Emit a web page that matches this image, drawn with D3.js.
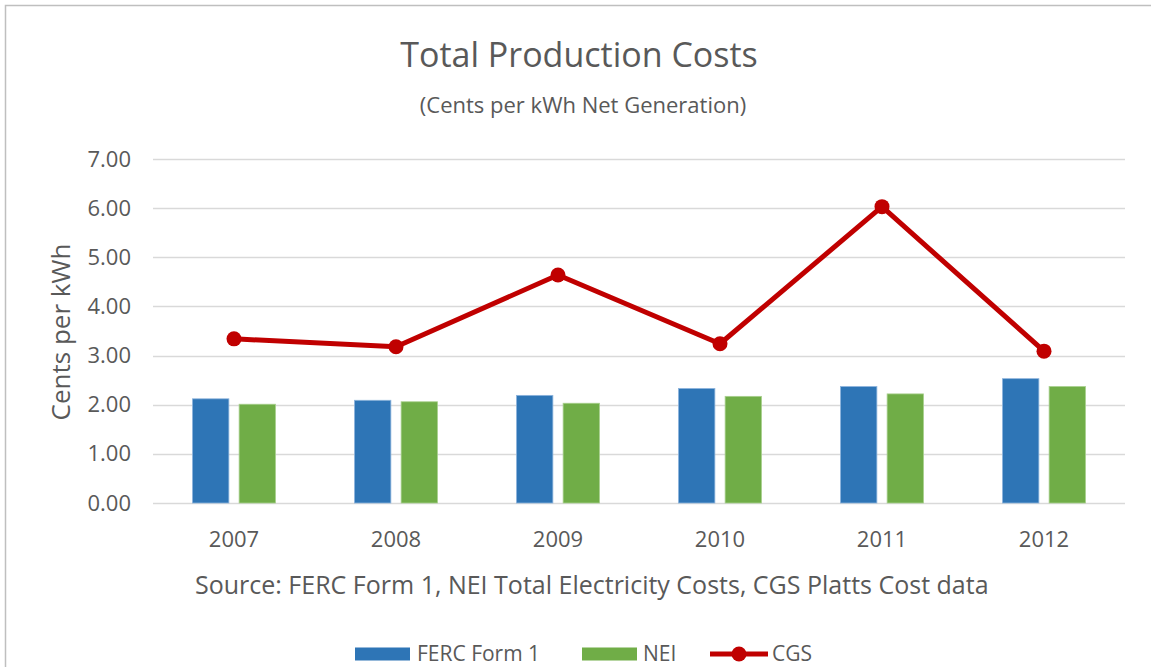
<!DOCTYPE html>
<html>
<head>
<meta charset="utf-8">
<script src="https://cdn.jsdelivr.net/npm/d3@7"></script>
<style>
  body { margin: 0; background: #fff; }
  svg { display: block; font-family: "Open Sans", sans-serif; }
</style>
</head>
<body>
<div id="chart"></div>
<script>
const years = ["2007", "2008", "2009", "2010", "2011", "2012"];
const fercValues = [2.12, 2.09, 2.19, 2.33, 2.37, 2.53];
const neiValues = [2.01, 2.06, 2.03, 2.17, 2.22, 2.37];
const cgsValues = [3.34, 3.18, 4.64, 3.24, 6.03, 3.09];
const yTicks = [0, 1, 2, 3, 4, 5, 6, 7];

const width = 1151, height = 667;
const margin = { top: 159, right: 26, bottom: 164, left: 153 };
const textColor = "#595959";

const svg = d3.select("#chart").append("svg")
  .attr("width", width)
  .attr("height", height);

// chart frame (right and bottom edges fall off the picture)
svg.append("rect")
  .attr("x", 5.5).attr("y", 5.5)
  .attr("width", width + 20).attr("height", height + 20)
  .attr("fill", "#fff")
  .attr("stroke", "#bfbfbf")
  .attr("stroke-width", 1.5);

const x = d3.scaleBand()
  .domain(years)
  .range([margin.left, width - margin.right]);

const x1 = d3.scaleBand()
  .domain(["ferc", "nei"])
  .range([0, 83])
  .paddingInner(0.22);

const y = d3.scaleLinear()
  .domain([0, 7])
  .range([height - margin.bottom, margin.top]);

// gridlines
svg.append("g")
  .selectAll("line")
  .data(yTicks)
  .join("line")
  .attr("x1", margin.left)
  .attr("x2", width - margin.right)
  .attr("y1", d => Math.round(y(d)) + 0.5)
  .attr("y2", d => Math.round(y(d)) + 0.5)
  .attr("stroke", "#d9d9d9")
  .attr("stroke-width", 1.5);

// y axis labels
const yAxis = d3.axisLeft(y).tickValues(yTicks).tickFormat(d3.format(".2f")).tickSize(0).tickPadding(22);
svg.append("g")
  .attr("transform", `translate(${margin.left},0)`)
  .call(yAxis)
  .call(g => g.select(".domain").remove())
  .selectAll("text")
  .attr("fill", textColor)
  .style("font-size", "22px")
  .style("font-family", "'Open Sans', sans-serif");

// x axis labels
const xAxis = d3.axisBottom(x).tickSize(0).tickPadding(28);
svg.append("g")
  .attr("transform", `translate(0,${y(0)})`)
  .call(xAxis)
  .call(g => g.select(".domain").remove())
  .selectAll("text")
  .attr("fill", textColor)
  .style("font-size", "22px")
  .style("font-family", "'Open Sans', sans-serif");

// bars
const groups = svg.append("g")
  .selectAll("g")
  .data(years)
  .join("g")
  .attr("transform", d => `translate(${x(d) + x.bandwidth() / 2 - 41.5},0)`);

groups.append("rect")
  .attr("x", x1("ferc"))
  .attr("width", x1.bandwidth())
  .attr("y", (d, i) => y(fercValues[i]))
  .attr("height", (d, i) => y(0) - y(fercValues[i]))
  .attr("fill", "#2e75b6")
  .attr("stroke", "#8db4dc")
  .attr("stroke-width", 0.8);

groups.append("rect")
  .attr("x", x1("nei"))
  .attr("width", x1.bandwidth())
  .attr("y", (d, i) => y(neiValues[i]))
  .attr("height", (d, i) => y(0) - y(neiValues[i]))
  .attr("fill", "#70ad47")
  .attr("stroke", "#a9d08e")
  .attr("stroke-width", 0.8);

// CGS line
const line = d3.line()
  .x((d, i) => x(years[i]) + x.bandwidth() / 2)
  .y(d => y(d));

svg.append("path")
  .datum(cgsValues)
  .attr("d", line)
  .attr("fill", "none")
  .attr("stroke", "#c00000")
  .attr("stroke-width", 5)
  .attr("stroke-linejoin", "round");

svg.append("g")
  .selectAll("circle")
  .data(cgsValues)
  .join("circle")
  .attr("cx", (d, i) => x(years[i]) + x.bandwidth() / 2)
  .attr("cy", d => y(d))
  .attr("r", 7.5)
  .attr("fill", "#c00000");

// titles
svg.append("text")
  .attr("x", 579).attr("y", 67)
  .attr("text-anchor", "middle")
  .attr("fill", textColor)
  .style("font-size", "34px")
  .text("Total Production Costs");

svg.append("text")
  .attr("x", 583).attr("y", 113)
  .attr("text-anchor", "middle")
  .attr("fill", textColor)
  .style("font-size", "22px")
  .text("(Cents per kWh Net Generation)");

svg.append("text")
  .attr("transform", `translate(70,${332}) rotate(-90)`)
  .attr("text-anchor", "middle")
  .attr("fill", textColor)
  .style("font-size", "26px")
  .text("Cents per kWh");

svg.append("text")
  .attr("x", 195).attr("y", 594)
  .attr("fill", textColor)
  .style("font-size", "25px")
  .text("Source: FERC Form 1, NEI Total Electricity Costs, CGS Platts Cost data");

// legend
const legend = svg.append("g").attr("transform", "translate(0,654)");
legend.append("rect").attr("x", 355).attr("y", -6.5).attr("width", 55).attr("height", 13).attr("fill", "#2e75b6");
legend.append("text").attr("x", 417).attr("y", 7).attr("fill", textColor).style("font-size", "21px").text("FERC Form 1");
legend.append("rect").attr("x", 582).attr("y", -6.5).attr("width", 55).attr("height", 13).attr("fill", "#70ad47");
legend.append("text").attr("x", 643).attr("y", 7).attr("fill", textColor).style("font-size", "21px").text("NEI");
legend.append("line").attr("x1", 710).attr("x2", 768).attr("y1", 0).attr("y2", 0).attr("stroke", "#c00000").attr("stroke-width", 5);
legend.append("circle").attr("cx", 739).attr("cy", 0).attr("r", 7.5).attr("fill", "#c00000");
legend.append("text").attr("x", 772).attr("y", 7).attr("fill", textColor).style("font-size", "21px").text("CGS");
</script>
</body>
</html>
